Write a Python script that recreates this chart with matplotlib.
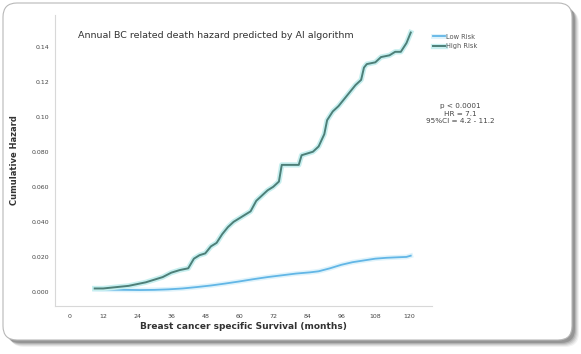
import matplotlib
matplotlib.use("Agg")
import matplotlib.pyplot as plt
import matplotlib.patheffects as pe
from matplotlib.patches import FancyBboxPatch

# Cumulative hazard, high-risk group (months, hazard)
high_months = [9, 12, 15, 18, 21, 24, 27, 30, 33, 36, 39, 42, 44, 46, 48, 50,
               52, 54, 56, 58, 60, 62, 64, 66, 68, 70, 72, 74, 75, 78, 81, 82,
               84, 86, 88, 90, 91, 93, 95, 97, 99, 101, 103, 104, 105, 108,
               110, 113, 115, 117, 119, 120.5]
high_hazard = [0.002, 0.002, 0.0025, 0.003, 0.0035, 0.0045, 0.0055, 0.007,
               0.0085, 0.011, 0.0125, 0.0135, 0.019, 0.021, 0.022, 0.026,
               0.028, 0.033, 0.037, 0.040, 0.042, 0.044, 0.046, 0.052, 0.055,
               0.058, 0.060, 0.063, 0.0725, 0.0725, 0.0725, 0.078, 0.079,
               0.080, 0.083, 0.090, 0.098, 0.103, 0.106, 0.110, 0.114, 0.118,
               0.121, 0.128, 0.130, 0.131, 0.134, 0.135, 0.137, 0.137, 0.142,
               0.148]

# Cumulative hazard, low-risk group
low_months = [9, 15, 20, 25, 30, 35, 40, 45, 50, 55, 60, 65, 70, 75, 80, 85,
              88, 92, 96, 100, 104, 108, 112, 116, 119, 120.5]
low_hazard = [0.0015, 0.0013, 0.0012, 0.0011, 0.0012, 0.0015, 0.002, 0.0028,
              0.0037, 0.0048, 0.006, 0.0073, 0.0085, 0.0095, 0.0105, 0.0112,
              0.0118, 0.0135, 0.0155, 0.017, 0.018, 0.019, 0.0195, 0.0198,
              0.020, 0.0207]

x_ticks = [0, 12, 24, 36, 48, 60, 72, 84, 96, 108, 120]
y_ticks = [0.0, 0.02, 0.04, 0.06, 0.08, 0.10, 0.12, 0.14]
y_tick_labels = ["0.000", "0.020", "0.040", "0.060", "0.080", "0.10", "0.12", "0.14"]

series_names = ["Low Risk", "High Risk"]
stats_text = "p < 0.0001\nHR = 7.1\n95%CI = 4.2 - 11.2"
title_text = "Annual BC related death hazard predicted by AI algorithm"

W, H = 581, 354
fig = plt.figure(figsize=(W / 100, H / 100), dpi=100)
fig.patch.set_facecolor("white")

# Card background with a soft drop shadow, in pixel units
bg = fig.add_axes([0, 0, 1, 1], zorder=0)
bg.set_xlim(0, W)
bg.set_ylim(H, 0)
bg.axis("off")
for i, a in enumerate([0.05, 0.07, 0.09, 0.12, 0.16]):
    off = 7 - i
    bg.add_patch(FancyBboxPatch((3 + off, 3 + off), 569, 337,
                                boxstyle="round,pad=0,rounding_size=14",
                                fc="black", ec="none", alpha=a))
bg.add_patch(FancyBboxPatch((3, 3), 569, 337,
                            boxstyle="round,pad=0,rounding_size=14",
                            fc="white", ec="#b8b8b8", lw=0.8))

ax = fig.add_axes([55 / W, 1 - 306 / H, (432 - 55) / W, (306 - 15) / H], zorder=1)
ax.patch.set_alpha(0)

ax.plot(low_months, low_hazard, color="#62b6e6", lw=1.3,
        label=series_names[0],
        path_effects=[pe.Stroke(linewidth=3.5, foreground="#dff3fb"), pe.Normal()])
ax.plot(high_months, high_hazard, color="#4d7f78", lw=1.4,
        label=series_names[1],
        path_effects=[pe.Stroke(linewidth=3.8, foreground="#c6efef"), pe.Normal()])

ax.set_xlim(-5, 128)
ax.set_ylim(-0.008, 0.158)
ax.set_xticks(x_ticks)
ax.set_xticklabels([str(t) for t in x_ticks])
ax.set_yticks(y_ticks)
ax.set_yticklabels(y_tick_labels)
ax.tick_params(length=0, labelsize=4.5, labelcolor="#444444")
ax.tick_params(axis="x", pad=6)
ax.tick_params(axis="y", pad=4)

for side in ("top", "right"):
    ax.spines[side].set_visible(False)
for side in ("left", "bottom"):
    ax.spines[side].set_color("#d8d8d8")
    ax.spines[side].set_linewidth(0.8)

ax.set_xlabel("Breast cancer specific Survival (months)", fontsize=6.5,
              fontweight="bold", color="#333333", labelpad=2)
ax.set_ylabel("Cumulative Hazard", fontsize=6, fontweight="bold",
              color="#333333", labelpad=9)

ax.text(0.06, 0.93, title_text, transform=ax.transAxes, fontsize=6.8,
        color="#333333", va="center", ha="left")

leg = ax.legend(loc="upper left", bbox_to_anchor=(0.995, 0.945), frameon=False,
                fontsize=4.8, handlelength=1.9, handletextpad=0.1,
                labelspacing=0.55, borderaxespad=0)
for t in leg.get_texts():
    t.set_color("#555555")

ax.text(1.075, 0.66, stats_text, transform=ax.transAxes, fontsize=5.2,
        color="#444444", ha="center", va="center", linespacing=1.3)

fig.savefig("out.png", dpi=100)
